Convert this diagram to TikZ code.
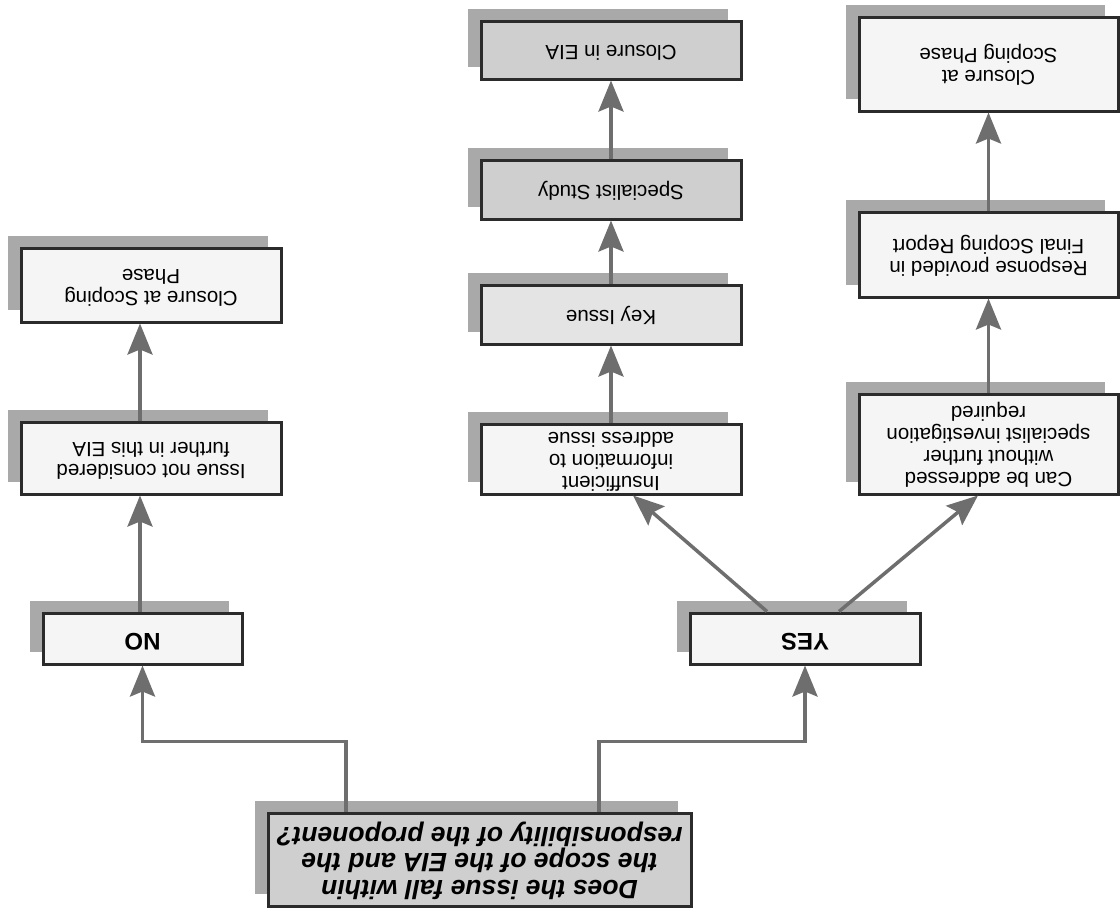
\documentclass[tikz,border=0pt]{standalone}
\usepackage{fontspec}
\usepackage{graphicx}
\setmainfont{Liberation Sans}
\usetikzlibrary{arrows.meta,shadows,calc}
\definecolor{bordc}{HTML}{2B2B2B}
\definecolor{shadowc}{HTML}{A9A9A9}
\definecolor{arrc}{HTML}{6E6E6E}
\definecolor{grayfill}{HTML}{CFCFCF}
\definecolor{keyfill}{HTML}{E4E4E4}
\definecolor{whitefill}{HTML}{F5F5F5}
\newcommand{\upt}[1]{\rotatebox{180}{\begin{tabular}{@{}c@{}}#1\end{tabular}}}
\begin{document}
\begin{tikzpicture}[x=1pt,y=-1pt,
  box/.style={rectangle, draw=bordc, line width=3pt, inner sep=0pt,
    fill=whitefill, font=\fontsize{20.5}{22}\selectfont,
    drop shadow={shadow xshift=-13pt, shadow yshift=12pt, fill=shadowc, opacity=1}},
  graybox/.style={box, fill=grayfill},
  ynbox/.style={box, font=\bfseries\fontsize{24}{26}\selectfont},
  arr/.style={draw=arrc, line width=3.5pt, -{Stealth[length=31pt,width=25pt,inset=5pt]}}]
\useasboundingbox (0,0) rectangle (1120,916);
\fill[white] (0,0) rectangle (1120,916);

% question
\node[graybox, minimum width=423pt, minimum height=93pt,
  font=\bfseries\itshape\fontsize{26.5}{24.5}\selectfont] (qst) at (479.5,859.5)
  {\upt{Does the issue fall within\\the scope of the EIA and the\\responsibility of the proponent?}};

\node[ynbox, minimum width=199pt, minimum height=51pt] (no) at (142.5,638.5) {\upt{NO}};
\node[ynbox, minimum width=230pt, minimum height=51pt] (yes) at (805,638.5) {\upt{YES}};

% left column
\node[box, minimum width=260pt, minimum height=72pt] (issue) at (151,458)
  {\upt{Issue not considered\\further in this EIA}};
\node[box, minimum width=260pt, minimum height=74pt] (clsL) at (151,285)
  {\upt{Closure at Scoping\\Phase}};

% middle column
\node[box, minimum width=260pt, minimum height=70pt] (insuf) at (611,459)
  {\upt{Insufficient\\information to\\address issue}};
\node[box, fill=keyfill, minimum width=260pt, minimum height=59pt] (key) at (611,314.5)
  {\upt{Key Issue}};
\node[graybox, minimum width=260pt, minimum height=59pt] (spec) at (611,189.5)
  {\upt{Specialist Study}};
\node[graybox, minimum width=260pt, minimum height=58pt] (clsEIA) at (611,50)
  {\upt{Closure in EIA}};

% right column
\node[box, minimum width=259pt, minimum height=100pt] (can) at (988.5,444)
  {\upt{Can be addressed\\without further\\specialist investigation\\required}};
\node[box, minimum width=259pt, minimum height=85pt] (resp) at (988.5,254.5)
  {\upt{Response provided in\\Final Scoping Report}};
\node[box, minimum width=259pt, minimum height=94pt] (clsR) at (988.5,64)
  {\upt{Closure at\\Scoping Phase}};

% connectors
\draw[arr] ([xshift=119.5pt]qst.north) -- ++(0,-70) -| (yes.south);
\draw[arr] ([xshift=-133.5pt]qst.north) -- ++(0,-70) -| (no.south);
\draw[arr] ([xshift=-2.5pt]no.north) -- ([xshift=-11pt]issue.south);
\draw[arr] ([xshift=-11pt]issue.north) -- ([xshift=-11pt]clsL.south);
\draw[arr] ([xshift=-38pt]yes.north) -- ([xshift=22pt]insuf.south);
\draw[arr] ([xshift=34pt]yes.north) -- ([xshift=-10.5pt]can.south);
\draw[arr] (insuf.north) -- (key.south);
\draw[arr] (key.north) -- (spec.south);
\draw[arr] (spec.north) -- (clsEIA.south);
\draw[arr] (can.north) -- (resp.south);
\draw[arr] (resp.north) -- (clsR.south);
\end{tikzpicture}
\end{document}
